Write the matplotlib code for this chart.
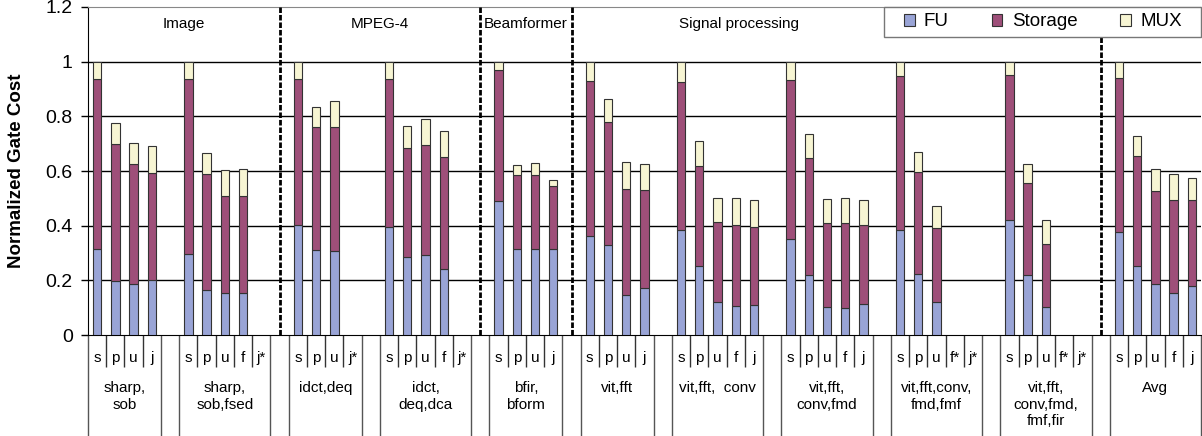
import numpy as np
from matplotlib import pyplot as plt
from matplotlib.patches import Rectangle

plt.rcParams['font.family'] = ['Liberation Sans', 'DejaVu Sans']

# categories
domain_labels = ['Image', 'MPEG-4', 'Beamformer', 'Signal processing']
group_labels = ['sharp,\nsob', 'sharp,\nsob,fsed', 'idct,deq', 'idct,\ndeq,dca',
                'bfir,\nbform', 'vit,fft', 'vit,fft,  conv', 'vit,fft,\nconv,fmd',
                'vit,fft,conv,\nfmd,fmf', 'vit,fft,\nconv,fmd,\nfmf,fir', 'Avg']
bar_labels = [['s', 'p', 'u', 'j'], ['s', 'p', 'u', 'f', 'j*'],
              ['s', 'p', 'u', 'j*'], ['s', 'p', 'u', 'f', 'j*'],
              ['s', 'p', 'u', 'j'], ['s', 'p', 'u', 'j'],
              ['s', 'p', 'u', 'f', 'j'], ['s', 'p', 'u', 'f', 'j'],
              ['s', 'p', 'u', 'f*', 'j*'], ['s', 'p', 'u', 'f*', 'j*'],
              ['s', 'p', 'u', 'f', 'j']]

# segment heights (nan = no result)
nan = np.nan
fu = [[0.315, 0.197, 0.188, 0.200], [0.296, 0.164, 0.155, 0.152, nan],
      [0.401, 0.312, 0.308, nan], [0.394, 0.284, 0.291, 0.241, nan],
      [0.489, 0.315, 0.315, 0.315], [0.361, 0.328, 0.147, 0.171],
      [0.383, 0.251, 0.122, 0.106, 0.111], [0.353, 0.221, 0.103, 0.098, 0.115],
      [0.383, 0.225, 0.122, nan, nan], [0.419, 0.221, 0.103, nan, nan],
      [0.378, 0.251, 0.185, 0.152, 0.181]]
storage = [[0.623, 0.502, 0.438, 0.392], [0.642, 0.425, 0.354, 0.357, nan],
           [0.537, 0.448, 0.452, nan], [0.544, 0.401, 0.403, 0.411, nan],
           [0.480, 0.272, 0.272, 0.229], [0.568, 0.452, 0.387, 0.358],
           [0.542, 0.366, 0.292, 0.295, 0.284], [0.581, 0.428, 0.308, 0.313, 0.287],
           [0.563, 0.372, 0.268, nan, nan], [0.531, 0.335, 0.230, nan, nan],
           [0.563, 0.403, 0.342, 0.342, 0.313]]
mux = [[0.062, 0.075, 0.077, 0.100], [0.062, 0.077, 0.095, 0.099, nan],
       [0.062, 0.075, 0.096, nan], [0.062, 0.079, 0.097, 0.093, nan],
       [0.031, 0.035, 0.043, 0.023], [0.071, 0.084, 0.099, 0.097],
       [0.075, 0.094, 0.087, 0.100, 0.098], [0.066, 0.087, 0.087, 0.090, 0.091],
       [0.054, 0.073, 0.082, nan, nan], [0.050, 0.070, 0.088, nan, nan],
       [0.059, 0.075, 0.082, 0.095, 0.082]]

# slot positions: one empty slot between groups
xs, names, fu_all, st_all, mx_all = [], [], [], [], []
group_spans = []
pos = 0
for g in range(len(group_labels)):
    start = pos
    for k, name in enumerate(bar_labels[g]):
        xs.append(pos)
        names.append(name)
        fu_all.append(fu[g][k])
        st_all.append(storage[g][k])
        mx_all.append(mux[g][k])
        pos += 1
    group_spans.append((start, pos - 1))
    pos += 1
xs = np.array(xs)
fu_all = np.array(fu_all)
st_all = np.array(st_all)
mx_all = np.array(mx_all)

c_fu = '#99a4d6'
c_st = '#9e4f79'
c_mx = '#f7f5d3'
edge = '#333333'

fig = plt.figure(figsize=(12.02, 4.36), dpi=100)
ax = fig.add_axes([88 / 1202, 1 - 335 / 436, 1113 / 1202, 328 / 436])

w = 0.46
ax.bar(xs, fu_all, w, color=c_fu, edgecolor=edge, lw=0.8, label='FU', zorder=3)
ax.bar(xs, st_all, w, bottom=fu_all, color=c_st, edgecolor=edge, lw=0.8,
       label='Storage', zorder=3)
ax.bar(xs, mx_all, w, bottom=fu_all + st_all, color=c_mx, edgecolor=edge, lw=0.8,
       label='MUX', zorder=3)

ax.set_xlim(-0.5, pos - 1.5)
ax.set_ylim(0, 1.2)
ax.set_yticks(np.arange(0, 1.21, 0.2))
ax.set_yticklabels(['0', '0.2', '0.4', '0.6', '0.8', '1', '1.2'], fontsize=14)
ax.tick_params(axis='y', length=5, width=1, pad=6)
ax.set_xticks([])
for y in [0.2, 0.4, 0.6, 0.8, 1.0]:
    ax.axhline(y, color='black', lw=1, zorder=1)
ax.spines['right'].set_visible(False)
ax.spines['top'].set_color('#888888')
ax.spines['left'].set_color('black')
ax.spines['bottom'].set_color('black')

ax.set_ylabel('Normalized Gate Cost', fontsize=13.5, fontweight='bold')
ax.yaxis.set_label_coords(-0.057, 0.5)

# domain separators and labels
gaps = [group_spans[i][1] + 1 for i in range(len(group_spans) - 1)]
for gi in [1, 3, 4, 9]:
    ax.plot([gaps[gi], gaps[gi]], [0, 1.2], color='black', lw=2,
            ls=(0, (2, 0.7)), zorder=4)
domain_x = [4.75, 15.5, 23.5, 35.2]
for lab, x in zip(domain_labels, domain_x):
    ax.text(x, 1.137, lab, ha='center', va='center', fontsize=11)

# two-level category axis
tr = ax.get_xaxis_transform()
for g, (a, b) in enumerate(group_spans):
    ax.vlines([a - 0.5, b + 0.5], 0, -0.31, transform=tr, color='#555555',
              lw=1, clip_on=False)
    ax.vlines(np.arange(a, b) + 0.5, 0, -0.098, transform=tr, color='#333333',
              lw=1, clip_on=False)
    ax.text((a + b) / 2, -0.14, group_labels[g], transform=tr, ha='center',
            va='top', fontsize=11, linespacing=1.25)
for x, name in zip(xs, names):
    ax.text(x, -0.07, name, transform=tr, ha='center', va='center', fontsize=11)

# legend box
fig.add_artist(Rectangle((884 / 1202, 1 - 37 / 436), 317 / 1202, 30 / 436,
                         transform=fig.transFigure, facecolor='white',
                         edgecolor='#777777', lw=1, zorder=4))
fig.legend(loc='center', bbox_to_anchor=(1043 / 1202, 1 - 22 / 436), ncol=3,
           fontsize=13.5, frameon=False, handlelength=0.55, handleheight=0.55,
           handletextpad=0.5, columnspacing=2.3, borderpad=0)

fig.savefig('out.png', dpi=100)
